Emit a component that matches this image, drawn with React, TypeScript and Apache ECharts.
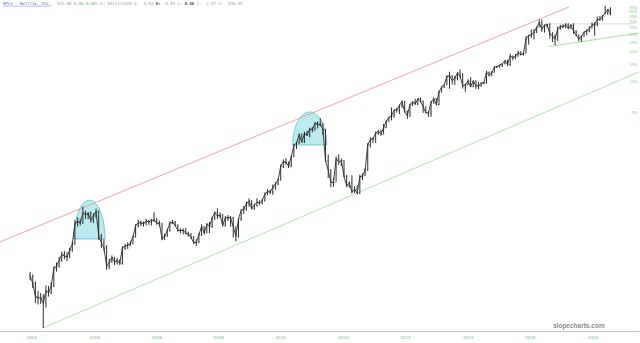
import React, { useEffect, useRef } from "react";
import * as echarts from "echarts";

// Monthly bars, May 2002 .. Sep 2020 (split-adjusted prices)
const firstMonthIndex = 4; // May (0-based)
const firstYear = 2002;
const firstOpen = 1.2;

const closes = [
  1.15, 0.98, 0.72, 0.70, 0.70, 0.62, 0.82, 0.79,
  0.92, 1.38, 1.45, 1.65, 1.90, 1.83, 1.78, 2.10, 2.40, 3.90, 4.05, 3.90,
  4.90, 4.75, 4.87, 4.20, 4.60, 5.10, 2.90, 2.50, 2.20, 1.45, 1.60, 1.76,
  1.60, 1.66, 1.55, 2.20, 2.30, 2.35, 2.45, 2.85, 3.70, 3.95, 3.90, 3.87,
  4.10, 4.00, 4.15, 4.20, 3.90, 3.90, 2.70, 2.90, 3.30, 3.90, 4.00, 3.70,
  3.30, 3.30, 3.30, 3.10, 3.00, 2.80, 2.50, 2.50, 3.00, 3.60, 3.10, 3.80,
  3.60, 4.40, 4.95, 4.60, 4.70, 3.70, 4.40, 4.40, 4.40, 3.60, 2.90, 4.30,
  5.20, 5.40, 6.10, 6.50, 5.50, 5.90, 6.30, 6.20, 6.60, 7.60, 8.10, 7.90,
  8.9, 9.6, 10.5, 14.4, 16.1, 15.6, 14.6, 18.0, 23.2, 24.7, 29.9, 25.1,
  30.6, 29.4, 33.9, 33.2, 38.9, 37.6, 37.9, 33.6, 16.2, 13.2, 10.0, 9.9,
  17.2, 15.9, 16.4, 11.4, 9.2, 9.8, 8.0, 8.5, 7.8, 11.3, 11.6, 13.2,
  23.6, 26.8, 27.0, 30.9, 32.3, 30.2, 34.9, 40.5, 44.2, 46.1, 52.3, 52.6,
  58.5, 63.7, 50.3, 46.0, 59.7, 62.9, 60.4, 68.1, 64.5, 56.1, 49.4, 48.8,
  63.1, 67.7, 59.5, 79.5, 89.2, 93.8, 114.3, 115.0, 103.3, 108.4, 123.3, 114.4,
  91.8, 93.4, 102.2, 90.0, 102.6, 91.5, 91.3, 97.5, 98.5, 124.9, 117.0, 123.8,
  140.7, 142.1, 147.8, 152.2, 163.1, 149.4, 181.7, 174.7, 181.4, 196.4, 187.6, 192.0,
  270.3, 291.4, 295.4, 312.5, 351.6, 391.4, 337.5, 367.7, 374.1, 301.8, 286.1, 267.7,
  339.5, 358.1, 356.6, 370.5, 343.3, 367.3, 323.0, 293.8, 267.6, 287.4, 314.7, 323.6,
  345.1, 369.0, 375.5, 419.9, 419.7, 455.0, 488.9, 529.6, 482.0,
];

const highs = [
  1.27, 1.20, 1.02, 0.82, 0.78, 0.76, 0.93, 0.92,
  1.00, 1.45, 1.58, 1.78, 2.02, 2.06, 2.00, 2.22, 2.56, 4.20, 4.45, 4.30,
  5.68, 5.20, 5.05, 5.10, 4.90, 5.45, 5.20, 3.05, 2.70, 2.35, 1.72, 1.86,
  1.80, 1.75, 1.70, 2.30, 2.42, 2.50, 2.60, 2.95, 3.80, 4.20, 4.15, 4.05,
  4.30, 4.20, 4.30, 5.00, 4.40, 4.15, 3.90, 3.05, 3.45, 4.05, 4.20, 4.10,
  3.80, 3.45, 3.45, 3.50, 3.20, 3.10, 2.90, 2.70, 3.10, 3.80, 3.60, 3.90,
  4.00, 4.50, 5.10, 5.50, 5.00, 4.80, 4.60, 4.70, 4.60, 4.50, 3.60, 4.40,
  5.40, 5.80, 6.40, 6.90, 6.60, 6.10, 6.90, 6.60, 6.80, 7.90, 8.50, 8.40,
  9.5, 10.0, 10.9, 15.0, 16.9, 17.4, 16.0, 18.6, 24.1, 25.3, 30.6, 30.5,
  31.9, 32.6, 35.0, 35.5, 39.7, 40.4, 43.5, 39.2, 34.0, 18.9, 13.4, 11.1,
  18.0, 19.0, 17.2, 16.5, 11.8, 10.2, 11.7, 9.1, 9.3, 11.9, 12.2, 13.8,
  24.6, 28.0, 28.1, 31.9, 33.4, 33.0, 38.2, 41.5, 44.8, 55.6, 52.8, 55.3,
  59.6, 65.4, 64.8, 52.0, 60.4, 64.4, 67.8, 68.5, 69.9, 65.2, 56.8, 51.3,
  64.7, 70.3, 68.9, 82.3, 90.6, 95.2, 115.8, 126.4, 117.0, 115.7, 124.6, 133.3,
  122.2, 96.8, 106.3, 112.0, 103.5, 103.5, 100.9, 98.7, 100.0, 129.3, 127.1, 129.3,
  142.9, 144.5, 148.3, 152.9, 163.5, 166.9, 191.5, 183.0, 190.4, 205.0, 202.5, 198.0,
  286.8, 294.9, 333.9, 338.8, 356.1, 423.2, 419.8, 374.5, 383.2, 386.8, 315.0, 298.7,
  358.9, 371.5, 377.4, 385.9, 385.5, 379.0, 385.0, 326.8, 298.8, 291.0, 318.7, 336.5,
  359.9, 393.5, 392.8, 449.5, 456.0, 465.0, 575.4, 536.0, 556.4,
];

const lows = [
  1.05, 0.88, 0.62, 0.60, 0.61, 0.35, 0.56, 0.72,
  0.76, 0.90, 1.28, 1.40, 1.60, 1.70, 1.62, 1.74, 2.02, 2.38, 3.60, 3.70,
  3.85, 4.30, 4.25, 3.95, 3.90, 4.40, 2.65, 2.20, 2.05, 1.33, 1.35, 1.56,
  1.48, 1.50, 1.48, 1.50, 2.10, 2.15, 2.30, 2.40, 2.80, 3.50, 3.65, 3.60,
  3.70, 3.75, 3.70, 4.00, 3.75, 3.60, 2.63, 2.65, 2.85, 3.20, 3.80, 3.60,
  3.20, 3.10, 3.00, 3.00, 2.85, 2.70, 2.40, 2.30, 2.45, 2.90, 3.00, 3.10,
  3.10, 3.50, 4.20, 4.30, 4.40, 3.60, 3.60, 4.10, 3.60, 2.80, 2.56, 2.80,
  4.10, 4.80, 5.20, 5.70, 5.30, 5.30, 5.70, 5.90, 6.00, 6.40, 7.40, 7.60,
  7.5, 8.4, 9.3, 10.4, 13.8, 14.9, 13.8, 14.2, 17.8, 21.4, 24.0, 24.9,
  24.6, 28.9, 28.0, 31.5, 32.7, 34.4, 36.0, 29.6, 15.9, 11.0, 8.9, 9.0,
  10.1, 14.9, 14.5, 11.2, 8.9, 8.8, 7.7, 7.8, 7.5, 7.6, 10.5, 11.6,
  13.0, 22.2, 24.6, 24.5, 29.6, 29.0, 30.0, 34.6, 40.0, 41.3, 44.1, 49.5,
  47.9, 55.0, 49.3, 42.8, 45.0, 57.4, 59.0, 58.8, 62.1, 49.2, 49.1, 44.9,
  45.0, 60.6, 58.5, 58.5, 78.6, 87.0, 93.3, 85.5, 94.4, 93.3, 103.8, 108.8,
  86.0, 79.9, 92.6, 89.0, 89.0, 85.5, 84.5, 89.9, 94.7, 96.0, 113.3, 114.3,
  124.3, 138.3, 138.3, 141.1, 150.1, 144.3, 144.4, 164.2, 168.8, 179.7, 184.8, 183.6,
  194.5, 236.1, 275.5, 265.4, 308.2, 352.8, 315.1, 310.9, 344.0, 271.2, 250.0, 231.2,
  256.6, 334.2, 344.0, 343.1, 336.1, 340.0, 302.3, 285.5, 254.0, 252.3, 283.0, 292.0,
  313.3, 344.0, 290.3, 360.0, 409.0, 409.0, 472.5, 466.6, 463.0,
];

// Trend lines [decimal year, price]
const redChannel = [[2001.424, 2.53], [2019.4, 561]];
const greenChannel = [[2002.78, 0.35], [2021.61, 126]];
const greenSupport = [[2018.78, 226], [2021.61, 308]];
const resistance = [[2018.78, 380], [2021.5, 380]];

// Highlight domes: [start year, end year, base price, top price]
const domes = [
  [2003.76, 2004.74, 2.71, 6.6],
  [2010.67, 2011.74, 23.5, 50.2],
];

// Axis ticks
const xTickPos = [2002.43, 2004.42, 2006.38, 2008.33, 2010.29, 2012.28, 2014.23, 2016.22, 2018.17, 2020.16];
const xTickText = ["2002", "2004", "2006", "2008", "2010", "2012", "2014", "2016", "2018", "2020"];
const yTicks = [50, 100, 150, 200, 250, 300, 350, 400, 450, 500, 550, 600];

const X_MIN = 2001.424;
const X_MAX = 2021.61;
const Y_MIN = 0.3267;
const Y_MAX = 658;

const L = (v: number) => Math.log10(v);

function buildOption() {
  const bars = closes.map((c, i) => {
    const t = firstYear + (firstMonthIndex + i + 0.5) / 12;
    const o = i === 0 ? firstOpen : closes[i - 1];
    return [t, L(o), L(c), L(lows[i]), L(highs[i])];
  });
  const closeLine = closes.map((c, i) => [firstYear + (firstMonthIndex + i + 0.5) / 12, L(c)]);
  const seg = (arr: number[][]) => arr.map((p) => [p[0], L(p[1])]);
  const domeData = domes.map((d) => [d[0], d[1], L(d[2]), L(d[3])]);
  const barColor = "#2e2e2e";

  return {
    animation: false,
    grid: { left: 0, right: 0, top: 0, bottom: 12 },
    xAxis: {
      type: "value",
      min: X_MIN,
      max: X_MAX,
      splitLine: { show: false },
      axisTick: { show: false },
      axisLine: { show: true, onZero: false, lineStyle: { color: "#c4c4c4", width: 1 } },
      axisLabel: {
        customValues: xTickPos,
        fontSize: 4,
        color: "#6cc46c",
        margin: 4,
        fontFamily: "DejaVu Sans",
        formatter: (v: number) => {
          let best = 0;
          xTickPos.forEach((p, i) => {
            if (Math.abs(p - v) < Math.abs(xTickPos[best] - v)) best = i;
          });
          return xTickText[best];
        },
      },
    },
    yAxis: {
      type: "value",
      position: "right",
      min: L(Y_MIN),
      max: L(Y_MAX),
      splitLine: { show: false },
      axisTick: { show: false },
      axisLine: { show: false },
      axisLabel: {
        inside: true,
        customValues: yTicks.map(L),
        fontSize: 4,
        color: "#7fcf7f",
        margin: 2,
        fontFamily: "DejaVu Sans",
        formatter: (v: number) => String(Math.round(Math.pow(10, v))),
      },
    },
    series: [
      {
        type: "custom",
        z: 1,
        data: domeData,
        encode: { x: [0, 1], y: [2, 3] },
        renderItem: (params: any, api: any) => {
          const p1 = api.coord([api.value(0), api.value(2)]);
          const p2 = api.coord([api.value(1), api.value(2)]);
          const pt = api.coord([api.value(0), api.value(3)]);
          const cx = (p1[0] + p2[0]) / 2;
          const rx = (p2[0] - p1[0]) / 2;
          const by = p1[1];
          const ry = by - pt[1];
          const k = 0.5523;
          const d =
            `M${p1[0]} ${by} C${p1[0]} ${by - k * ry} ${cx - k * rx} ${by - ry} ${cx} ${by - ry} ` +
            `C${cx + k * rx} ${by - ry} ${p2[0]} ${by - k * ry} ${p2[0]} ${by} Z`;
          return {
            type: "path",
            shape: { pathData: d },
            style: { fill: "rgba(120, 214, 226, 0.5)", stroke: "#5cc3d0", lineWidth: 0.8 },
          };
        },
      },
      {
        type: "line",
        z: 2,
        data: seg(redChannel),
        symbol: "none",
        lineStyle: { color: "#f08c8c", width: 0.8 },
      },
      {
        type: "line",
        z: 2,
        data: seg(greenChannel),
        symbol: "none",
        lineStyle: { color: "#98e098", width: 0.8 },
      },
      {
        type: "line",
        z: 2,
        data: seg(greenSupport),
        symbol: "none",
        lineStyle: { color: "#8ed88e", width: 0.8 },
      },
      {
        type: "line",
        z: 2,
        data: seg(resistance),
        symbol: "none",
        lineStyle: { color: "#c8c8c8", width: 0.7 },
      },
      {
        type: "line",
        z: 3,
        data: closeLine,
        symbol: "none",
        lineStyle: { color: barColor, width: 0.9 },
      },
      {
        type: "custom",
        z: 4,
        data: bars,
        encode: { x: 0, y: [1, 2, 3, 4] },
        renderItem: (params: any, api: any) => {
          const x = api.value(0);
          const pl = api.coord([x, api.value(3)]);
          const ph = api.coord([x, api.value(4)]);
          const po = api.coord([x, api.value(1)]);
          const pc = api.coord([x, api.value(2)]);
          const thin = { stroke: barColor, lineWidth: 0.7 };
          return {
            type: "group",
            children: [
              { type: "line", shape: { x1: pl[0], y1: pl[1], x2: ph[0], y2: ph[1] }, style: { stroke: barColor, lineWidth: 1.0 } },
              { type: "line", shape: { x1: po[0] - 0.9, y1: po[1], x2: po[0], y2: po[1] }, style: thin },
              { type: "line", shape: { x1: pc[0], y1: pc[1], x2: pc[0] + 0.9, y2: pc[1] }, style: thin },
            ],
          };
        },
      },
    ],
    graphic: [
      {
        type: "text",
        left: 3,
        top: 1,
        style: {
          text: "NFLX - Netflix, Inc.",
          fill: "#4a63d0",
          font: '4px "DejaVu Sans Mono"',
        },
      },
      {
        type: "line",
        shape: { x1: 3, y1: 6.2, x2: 51, y2: 6.2 },
        style: { stroke: "#4a63d0", lineWidth: 0.4 },
      },
      {
        type: "text",
        left: 57,
        top: 1,
        style: {
          text: "{g|531.00} {c|0.00 0.00%} {g|D: 09/11/2020 O:  0.52} {b|H:} {g| 0.54 L:} {b|0.50} {g|C:  2.47 V:  530.95}",
          font: '4px "DejaVu Sans Mono"',
          rich: {
            g: { fill: "#9a9a9a", font: '4px "DejaVu Sans Mono"' },
            c: { fill: "#5cbf5c", font: '4px "DejaVu Sans Mono"' },
            b: { fill: "#444", font: 'bold 4px "DejaVu Sans Mono"' },
          },
        },
      },
      {
        type: "text",
        left: 553,
        top: 322,
        style: {
          text: "slopecharts.com",
          fill: "#8c8c8c",
          font: 'bold 6.5px "Liberation Sans"',
        },
      },
    ],
  };
}

export default function App() {
  const ref = useRef<HTMLDivElement>(null);
  useEffect(() => {
    if (!ref.current) return;
    const chart = echarts.init(ref.current, null, { renderer: "svg" });
    chart.setOption(buildOption() as any);
    return () => chart.dispose();
  }, []);
  return (
    <div
      ref={ref}
      style={{ position: "fixed", left: 0, top: 0, width: 640, height: 343, background: "#fff" }}
    />
  );
}
